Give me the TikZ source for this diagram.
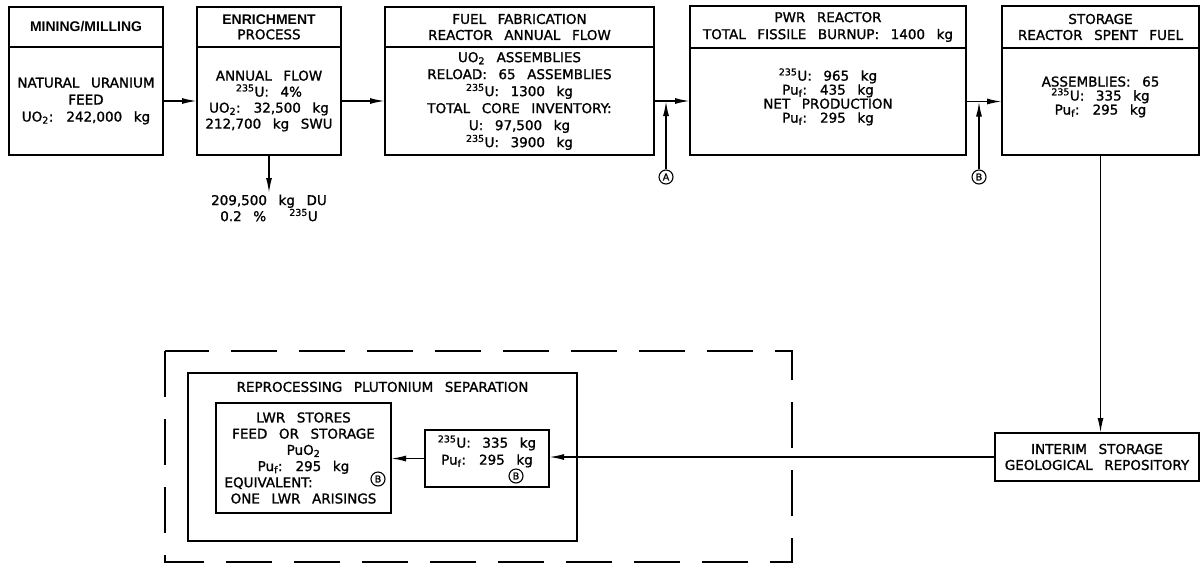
\documentclass[tikz,border=0pt]{standalone}
\usepackage{fontspec}
\setmainfont{DejaVu Sans}[WordSpace=2.7, FakeBold=1.3]
\newfontfamily\hdrfont{Liberation Sans}
\usetikzlibrary{arrows.meta, positioning, calc}

\begin{document}
\begin{tikzpicture}[
    x=1pt, y=-1pt,
    line width=1.6pt,
    every node/.style={font=\fontsize{13.5}{17}\selectfont},
    hdrbox/.style={rectangle, draw, outer sep=0pt, inner sep=1pt, minimum width=#1, minimum height=40pt, align=center},
    bodybox/.style={rectangle, draw, outer sep=0pt, inner sep=1pt, minimum width=#1, minimum height=108pt, align=center},
    flowbox/.style={rectangle, draw, outer sep=0pt, inner sep=1pt, align=center},
    circtag/.style={circle, draw, line width=1.1pt, inner sep=0pt, minimum size=14pt, font=\fontsize{9.5}{10}\selectfont},
    arrow/.style={-{Latex[length=15pt, width=6pt]}},
    dashframe/.style={dash pattern=on 46pt off 22pt}
]
\useasboundingbox (0,0) rectangle (1201,563);

% Row 1: fuel cycle front end
\node[hdrbox=154pt] (miningHdr) at (86,27) {\hdrfont\bfseries\fontsize{14}{15}\selectfont MINING/MILLING};
\node[bodybox=154pt, below=0pt of miningHdr] (mining) {NATURAL URANIUM\\FEED\\UO\textsubscript{2}: 242,000 kg};

\node[hdrbox=144pt, right=34pt of miningHdr, font=\fontsize{13.5}{15}\selectfont] (enrichHdr) {{\hdrfont\bfseries\fontsize{14}{15}\selectfont ENRICHMENT}\\PROCESS};
\node[bodybox=144pt, below=0pt of enrichHdr, font=\fontsize{13.5}{16}\selectfont] (enrich) {ANNUAL FLOW\\\textsuperscript{235}U: 4\%\\UO\textsubscript{2}: 32,500 kg\\212,700 kg SWU};

\node[hdrbox=269pt, right=44pt of enrichHdr, font=\fontsize{13.5}{16}\selectfont] (fabHdr) {FUEL FABRICATION\\REACTOR ANNUAL FLOW};
\node[bodybox=269pt, below=0pt of fabHdr] (fab) {UO\textsubscript{2} ASSEMBLIES\\RELOAD: 65 ASSEMBLIES\\\textsuperscript{235}U: 1300 kg\\TOTAL CORE INVENTORY:\\U: 97,500 kg\\\textsuperscript{235}U: 3900 kg};

\node[hdrbox=276pt, minimum height=42pt, right=36pt of fabHdr] (pwrHdr) {PWR REACTOR\\TOTAL FISSILE BURNUP: 1400 kg};
\node[bodybox=276pt, minimum height=107pt, below=0pt of pwrHdr, font=\fontsize{13.5}{14}\selectfont] (pwr) {\textsuperscript{235}U: 965 kg\\Pu\textsubscript{f}: 435 kg\\NET PRODUCTION\\Pu\textsubscript{f}: 295 kg\\[-2pt]\mbox{}};

\node[hdrbox=197pt, minimum height=42pt, right=36pt of pwrHdr, font=\fontsize{13.5}{16}\selectfont] (storageHdr) {STORAGE\\REACTOR SPENT FUEL};
\node[bodybox=197pt, minimum height=107pt, below=0pt of storageHdr, font=\fontsize{13.5}{14}\selectfont] (storage) {ASSEMBLIES: 65\\\textsuperscript{235}U: 335 kg\\Pu\textsubscript{f}: 295 kg\\[-2pt]\mbox{}};

% Depleted uranium tails
\node[below=38pt of enrich, inner sep=1pt, align=center, font=\fontsize{13.5}{15}\selectfont] (depleted) {209,500 kg DU\\0.2 \%\ \ \textsuperscript{235}U};

% Marked points
\node[circtag] (tagA) at (666,177) {A};
\node[circtag] (tagB) at (979,177) {B};

% Back end
\node[flowbox, minimum width=204pt, minimum height=48pt, font=\fontsize{13.5}{16}\selectfont] (interim) at (1097,457) {INTERIM STORAGE\\GEOLOGICAL REPOSITORY};

\draw[dashframe] (165,351) rectangle (792,562);
\node[flowbox, minimum width=389pt, minimum height=168pt] (reproc) at (382.5,457) {};
\node[below=8pt of reproc.north, inner sep=0pt] (reprocTitle) {REPROCESSING PLUTONIUM SEPARATION};
\node[flowbox, minimum width=175pt, minimum height=110pt, font=\fontsize{13.5}{16.2}\selectfont] (lwrStores) at (303.5,458) {LWR STORES\\FEED OR STORAGE\\PuO\textsubscript{2}\\Pu\textsubscript{f}: 295 kg\\\makebox[158pt][l]{EQUIVALENT:}\\ONE LWR ARISINGS};
\node[flowbox, minimum width=124pt, minimum height=57pt] (separated) at (487,458.5) {\textsuperscript{235}U: 335 kg\\Pu\textsubscript{f}: 295 kg\\\mbox{}};
\node[circtag] (tagLwr) at (378,479) {B};
\node[circtag] (tagSep) at (516,476) {B};

% Arrows
\draw[arrow] (mining) -- (enrich);
\draw[arrow] (enrich) -- (fab);
\draw[arrow] (fab.east) -- (fab.east -| pwr.west);
\draw[arrow] (pwr.east) -- (pwr.east -| storage.west);
\draw[arrow] (enrich.south) -- (depleted.north);
\draw[arrow] (tagA.north) -- (tagA |- fab.east);
\draw[arrow] (tagB.north) -- (tagB |- pwr.east);
\draw[arrow] (storage.south) -- (storage.south |- interim.north);
\draw[arrow] (interim.west) -- (interim.west -| separated.east);
\draw[arrow] (separated.west) -- (separated.west -| lwrStores.east);

\end{tikzpicture}
\end{document}
